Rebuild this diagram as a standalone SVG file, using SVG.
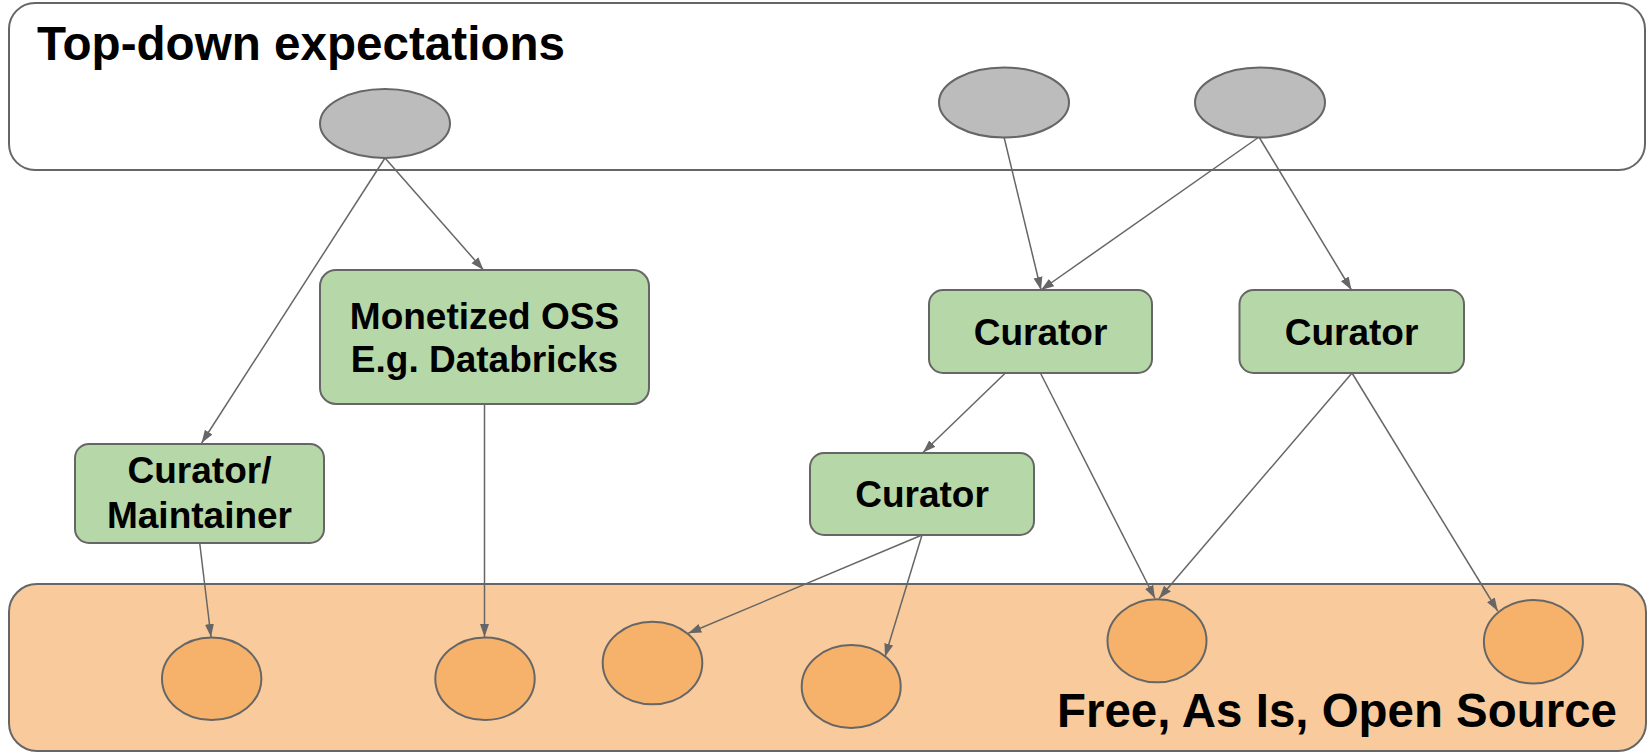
<svg xmlns="http://www.w3.org/2000/svg" width="1651" height="752" viewBox="0 0 1651 752">
<defs>
<style>
.container{stroke:#666666;stroke-width:2}
.top{fill:#ffffff}
.bottom{fill:#f9cb9c}
.gray{fill:#bcbcbc;stroke:#666666;stroke-width:2}
.orange{fill:#f6b26b;stroke:#666666;stroke-width:2}
.box{fill:#b6d7a8;stroke:#666666;stroke-width:2}
.big{font-family:"Liberation Sans",Arial,sans-serif;font-weight:bold;font-size:48px;fill:#000}
.lbl{font-family:"Liberation Sans",Arial,sans-serif;font-weight:bold;font-size:37px;fill:#000;text-anchor:middle}
.conn line{stroke:#666666;stroke-width:1.5;fill:none;marker-end:url(#ah)}
</style>
<marker id="ah" markerUnits="userSpaceOnUse" markerWidth="14" markerHeight="12" viewBox="0 0 14 12" refX="13" refY="6" orient="auto">
<path d="M0,1.5 L13,6 L0,10.5 Z" fill="#666666"/>
</marker>
</defs>
<g id="top-container">
<rect class="container top" x="9" y="3" width="1636" height="167" rx="26"/>
<text class="big" x="37" y="60" textLength="528" lengthAdjust="spacingAndGlyphs">Top-down expectations</text>
</g>
<g id="bottom-container">
<rect class="container bottom" x="9" y="584" width="1637" height="167" rx="28"/>
<text class="big" x="1057" y="727" textLength="560" lengthAdjust="spacingAndGlyphs">Free, As Is, Open Source</text>
</g>
<g id="connectors" class="conn">
<line x1="385" y1="158" x2="201.6" y2="443"/>
<line x1="385" y1="158" x2="483.5" y2="270"/>
<line x1="1004" y1="137" x2="1041" y2="290"/>
<line x1="1259" y1="137" x2="1041" y2="290"/>
<line x1="1259" y1="137" x2="1351.5" y2="290"/>
<line x1="484.5" y1="404" x2="484.5" y2="637"/>
<line x1="199.7" y1="543" x2="211" y2="637"/>
<line x1="1005.4" y1="373" x2="923" y2="452.5"/>
<line x1="1040.4" y1="373" x2="1155" y2="598.5"/>
<line x1="1352" y1="373" x2="1159" y2="598.5"/>
<line x1="1352" y1="373" x2="1497.7" y2="611"/>
<line x1="922" y1="535" x2="688.3" y2="633.3"/>
<line x1="922" y1="535" x2="885" y2="656.7"/>
</g>
<g id="g1"><ellipse class="gray" cx="385" cy="123.5" rx="65" ry="34.5"/></g>
<g id="g2"><ellipse class="gray" cx="1004" cy="102.5" rx="65" ry="35"/></g>
<g id="g3"><ellipse class="gray" cx="1260" cy="102.5" rx="65" ry="35"/></g>
<g id="monetized">
<rect class="box" x="320" y="270" width="329" height="134" rx="16"/>
<text class="lbl" x="484.5" y="329">Monetized OSS</text>
<text class="lbl" x="484.5" y="372">E.g. Databricks</text>
</g>
<g id="curator-maintainer">
<rect class="box" x="75" y="444" width="249" height="99" rx="14"/>
<text class="lbl" x="199.5" y="483">Curator/</text>
<text class="lbl" x="199.5" y="528">Maintainer</text>
</g>
<g id="curator1">
<rect class="box" x="929" y="290" width="223" height="83" rx="14"/>
<text class="lbl" x="1040.5" y="345">Curator</text>
</g>
<g id="curator2">
<rect class="box" x="1239.5" y="290" width="224.5" height="83" rx="14"/>
<text class="lbl" x="1351.5" y="344.5">Curator</text>
</g>
<g id="curator3">
<rect class="box" x="810" y="453" width="224" height="82" rx="14"/>
<text class="lbl" x="922" y="507">Curator</text>
</g>
<g id="o1"><ellipse class="orange" cx="211.7" cy="678.7" rx="49.7" ry="41.3"/></g>
<g id="o2"><ellipse class="orange" cx="485" cy="678.7" rx="49.7" ry="41.3"/></g>
<g id="o3"><ellipse class="orange" cx="652.5" cy="663" rx="49.8" ry="41.3"/></g>
<g id="o4"><ellipse class="orange" cx="851.2" cy="686.5" rx="49.5" ry="41.5"/></g>
<g id="o5"><ellipse class="orange" cx="1157" cy="640.8" rx="49.5" ry="41.5"/></g>
<g id="o6"><ellipse class="orange" cx="1533.4" cy="641.7" rx="49.5" ry="41.7"/></g>
</svg>
